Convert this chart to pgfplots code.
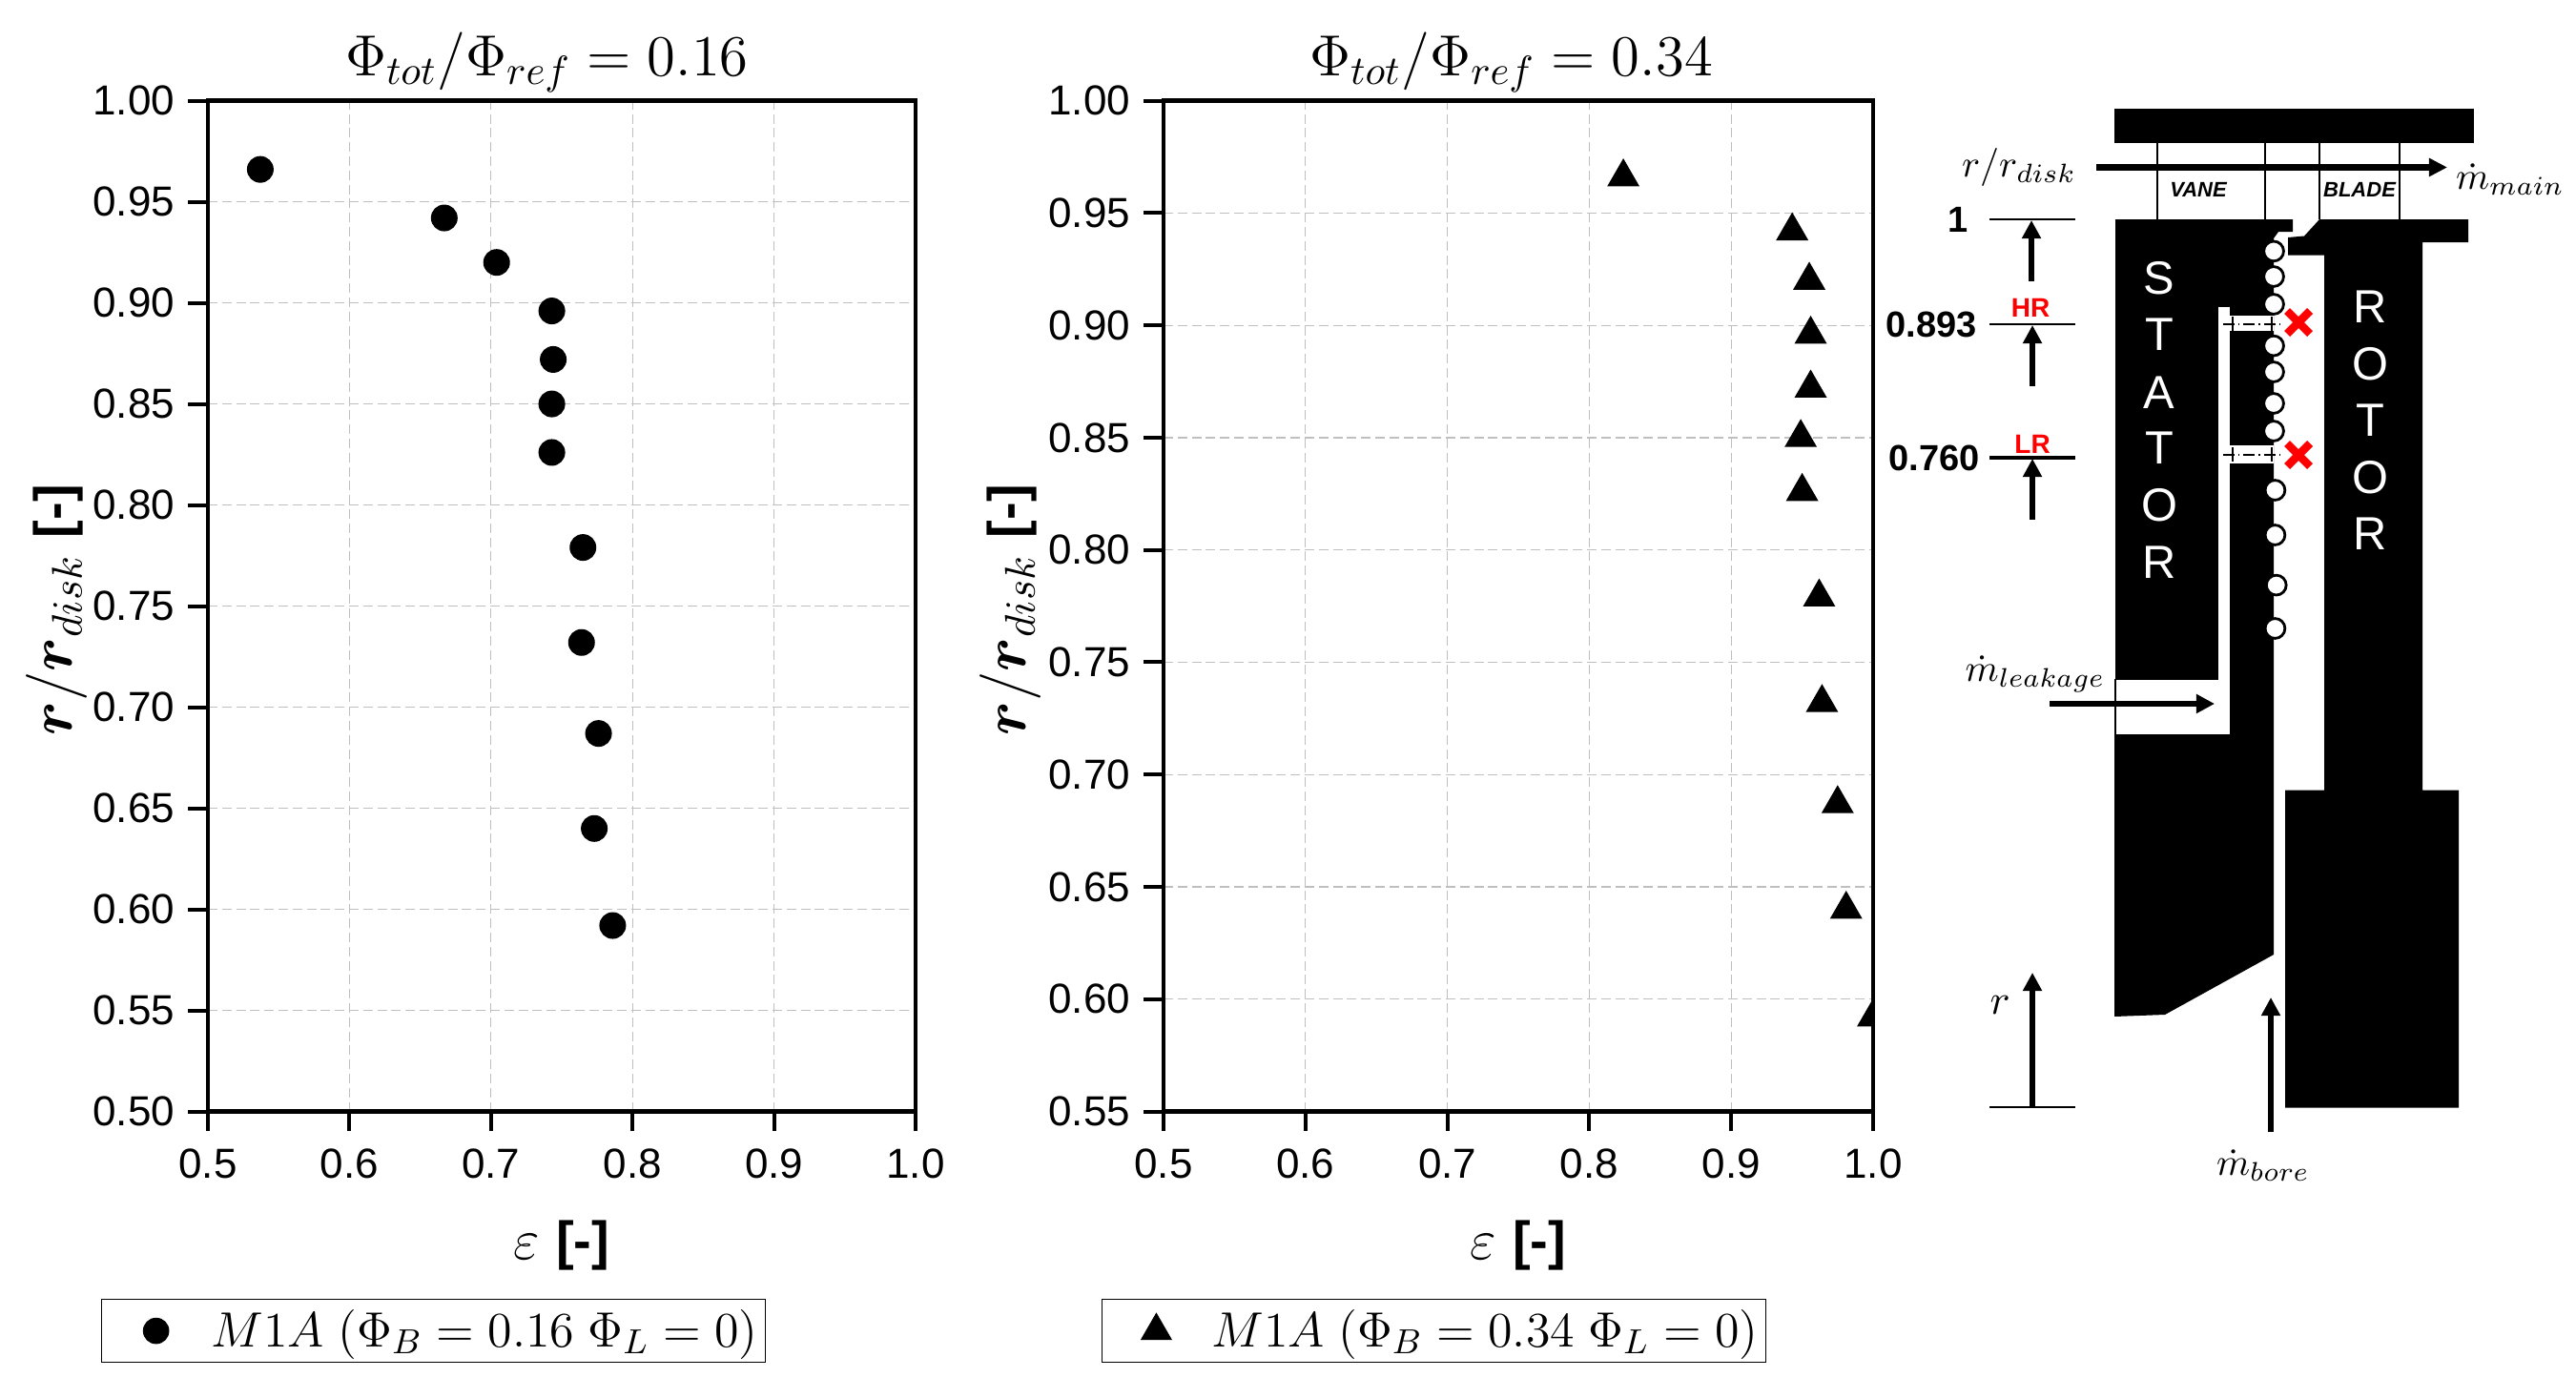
\RequirePackage{fix-cm}
\documentclass[border=0pt]{standalone}
\usepackage[no-math]{fontspec}
\setmainfont{Liberation Sans}
\usepackage{pgfplots}
\pgfplotsset{compat=1.18}
\usetikzlibrary{arrows.meta}

\pgfplotsset{
  every axis title shift=0pt,
  effplot/.style={
    scale only axis,
    height=265pt,
    axis line style={line width=1.05pt},
    tick style={black,line width=1pt},
    tick align=outside,
    major tick length=5.2pt,
    xtick pos=bottom, ytick pos=left,
    xmin=0.5, xmax=1,
    xtick={0.5,0.6,...,1.0},
    grid=major,
    grid style={dash pattern=on 2.5pt off 1.2pt,line width=0.3pt,black!25},
    clip mode=global, clip marker paths=true,
    every tick label/.append style={font=\fontsize{11}{13}\selectfont},
    /pgf/number format/assume math mode=true,
    xticklabel style={yshift=-1pt,/pgf/number format/.cd,fixed,fixed zerofill,precision=1},
    yticklabel style={/pgf/number format/.cd,fixed,fixed zerofill,precision=2},
    xlabel={\fontsize{15}{17}\selectfont$\varepsilon$ \fontsize{14}{16}\selectfont\textbf{[-]}},
    xlabel style={at={(axis description cs:0.5,-0.1325)},anchor=center},
    ylabel={\fontsize{16}{18}\selectfont{\boldmath$r$}$/${\boldmath$r$}$_{disk}$ \fontsize{14}{16}\selectfont\textbf{[-]}},
    every axis title/.append style={font=\fontsize{15.2}{18}\selectfont},
    legend cell align=left,
    legend image code/.code={\path[draw=none] (-0.5cm,0) rectangle (0.44cm,0); \draw[##1] plot coordinates {(0,0)};},
  },
  boxleg/.style={at={(axis description cs:#1,-0.217)},anchor=center,draw=black,line width=0.3pt,
    font=\fontsize{13}{15}\selectfont,inner xsep=0pt,inner ysep=0.6pt},
  block/.style={fill=black,draw=none,forget plot},
  gap/.style={fill=white,draw=none,forget plot},
  thinln/.style={black,line width=0.35pt,forget plot},
  lvl/.style={black,line width=0.5pt,forget plot},
  arr/.style={black,line width=1.4pt,-{Triangle[length=4.8pt,width=4.8pt]},forget plot},
  redx/.style={red,line width=2.1pt,forget plot},
}

\pgfplotstableread{
eps r
0.537 0.966
0.667 0.942
0.704 0.920
0.743 0.896
0.744 0.872
0.743 0.850
0.743 0.826
0.765 0.779
0.764 0.732
0.776 0.687
0.773 0.640
0.786 0.592
}\lowflow
\pgfplotstableread{
eps r
0.824 0.966
0.943 0.942
0.955 0.920
0.956 0.896
0.956 0.872
0.949 0.850
0.950 0.826
0.962 0.779
0.964 0.732
0.975 0.687
0.981 0.640
1.000 0.592
}\highflow

\begin{document}
\begin{tikzpicture}[x=1pt,y=1pt]
\useasboundingbox (0,0) rectangle (675.25,366.5);

% left panel
\begin{axis}[effplot, at={(54.5pt,75.1pt)}, anchor=south west, width=185.5pt,
  ymin=0.5, ymax=1, ytick={0.5,0.55,...,1.0},
  title={$\Phi_{tot}/\Phi_{ref}=0.16$},
  title style={at={(axis description cs:0.479,1.038)},anchor=center},
  ylabel style={at={(axis description cs:-0.213,0.496)},anchor=center},
  legend style={boxleg=0.319},
]
\addplot[only marks,mark=*,mark size=3.3pt,black] table[x=eps,y=r] {\lowflow};
\addlegendentry{$M1A\;\big(\Phi_B=0.16\;\Phi_L=0\big)$}
\end{axis}

% right panel
\begin{axis}[effplot, at={(305pt,75.1pt)}, anchor=south west, width=186pt,
  ymin=0.55, ymax=1, ytick={0.55,0.6,...,1.0},
  title={$\Phi_{tot}/\Phi_{ref}=0.34$},
  title style={at={(axis description cs:0.490,1.038)},anchor=center},
  ylabel style={at={(axis description cs:-0.216,0.496)},anchor=center},
  legend style={boxleg=0.381},
]
\addplot[only marks,mark=triangle*,mark size=4.5pt,black] table[x=eps,y=r] {\highflow};
\addlegendentry{$M1A\;\big(\Phi_B=0.34\;\Phi_L=0\big)$}
\end{axis}

% schematic, in reference pixel coordinates
\begin{axis}[at={(0pt,0pt)},anchor=south west,scale only axis,width=675.25pt,height=366.5pt,
  xmin=0,xmax=2701,ymin=0,ymax=1466,y dir=reverse,hide axis,clip=false]
% casing and annulus lines
\addplot[block] coordinates {(2217,114)(2594,114)(2594,150)(2217,150)};
\addplot[black,line width=0.55pt,forget plot] coordinates {(2262,150)(2262,230)};
\addplot[black,line width=0.55pt,forget plot] coordinates {(2375,150)(2375,230)};
\addplot[black,line width=0.55pt,forget plot] coordinates {(2432,150)(2432,230)};
\addplot[black,line width=0.55pt,forget plot] coordinates {(2516,150)(2516,230)};
\addplot[black,line width=1.6pt,-{Triangle[length=4.8pt,width=4.6pt]},forget plot] coordinates {(2198,175.5)(2566,175.5)};
% stator
\addplot[block] coordinates {(2218,230)(2404,230)(2404,243)(2389,243)(2384,250)(2384,1001)(2270,1064)(2217,1066)(2217,770)(2218,712)};
\addplot[gap] coordinates {(2219,712.5)(2338,712.5)(2338,770)(2219,770)};
\addplot[gap] coordinates {(2326,322)(2338,322)(2338,713)(2326,713)};
\addplot[gap] coordinates {(2338,330.5)(2384,330.5)(2384,347)(2338,347)};
\addplot[gap] coordinates {(2338,467)(2384,467)(2384,486)(2338,486)};
\addplot[thinln] coordinates {(2218,712)(2218,770)};
% rotor
\addplot[block] coordinates {(2432,230)(2588,230)(2588,254)(2540,254)(2540,828.5)(2578,828.5)(2578,1161.5)(2396,1161.5)(2396,828.5)(2437,828.5)(2437,267.5)(2399,267.5)(2399,249)(2416,247.5)};
% measurement lines through the slots
\addplot[thinln,densely dashdotted] coordinates {(2331,340)(2391,340)};
\addplot[thinln] coordinates {(2341,332)(2341,347)};
\addplot[thinln] coordinates {(2382,332)(2382,347)};
\addplot[thinln,densely dashdotted] coordinates {(2331,477)(2390,477)};
\addplot[thinln] coordinates {(2341,469)(2341,484)};
\addplot[thinln] coordinates {(2382,469)(2382,484)};
% measurement points
\addplot[only marks,mark=*,mark size=2.6pt,mark options={fill=white,draw=black,line width=0.7pt},forget plot] coordinates {
  (2384,263.4)(2384,290)(2384,319)(2384,362.6)(2384,390)(2384,423)(2384,452)
  (2385.4,514)(2385.4,561)(2386.7,613.6)(2385.4,659)};
\addplot[redx] coordinates {(2398,326)(2422,350)};
\addplot[redx] coordinates {(2398,350)(2422,326)};
\addplot[redx] coordinates {(2398,465)(2422,489)};
\addplot[redx] coordinates {(2398,489)(2422,465)};
% radius levels
\addplot[lvl] coordinates {(2086,230)(2176,230)};
\addplot[lvl] coordinates {(2086,340)(2176,340)};
\addplot[lvl,line width=0.8pt] coordinates {(2086,480)(2176,480)};
\addplot[lvl] coordinates {(2086,1161)(2176,1161)};
\addplot[arr] coordinates {(2130,295)(2130,231)};
\addplot[arr] coordinates {(2131,405)(2131,341)};
\addplot[arr] coordinates {(2131,545)(2131,481)};
\addplot[arr] coordinates {(2131,1161)(2131,1020)};
\addplot[arr] coordinates {(2381,1187)(2381,1046)};
\addplot[arr] coordinates {(2149,738)(2322,738)};
% labels
\node[font=\fontsize{10}{12}\selectfont] at (axis cs:2117,175) {$r/r_{disk}$};
\node[font=\fontsize{10}{12}\selectfont] at (axis cs:2632,188) {$\dot m_{main}$};
\node[font=\fontsize{10}{12}\selectfont] at (axis cs:2134,707) {$\dot m_{leakage}$};
\node[font=\fontsize{10}{12}\selectfont] at (axis cs:2373,1222) {$\dot m_{bore}$};
\node[font=\fontsize{11}{13}\selectfont] at (axis cs:2097,1054) {$r$};
\node[font=\fontsize{5.5}{6}\bfseries\itshape\selectfont] at (axis cs:2305,199) {VANE};
\node[font=\fontsize{5.5}{6}\bfseries\itshape\selectfont] at (axis cs:2474,199) {BLADE};
\node[font=\fontsize{9.5}{11}\bfseries\selectfont] at (axis cs:2053,230) {1};
\node[font=\fontsize{9.5}{11}\bfseries\selectfont] at (axis cs:2025,340) {0.893};
\node[font=\fontsize{9.5}{11}\bfseries\selectfont] at (axis cs:2028,480) {0.760};
\node[red,font=\fontsize{7}{8}\bfseries\selectfont] at (axis cs:2129,323) {HR};
\node[red,font=\fontsize{7}{8}\bfseries\selectfont] at (axis cs:2131,466) {LR};
\foreach \c/\y in {S/292,T/351,A/411.6,T/469.7,O/530,R/590}{
  \edef\tmp{\noexpand\node[white,font=\noexpand\fontsize{12.2}{14}\noexpand\selectfont] at (axis cs:2264,\y) {\c};}\tmp
}
\foreach \c/\y in {R/322,O/381.7,T/440.6,O/500.8,R/560}{
  \edef\tmp{\noexpand\node[white,font=\noexpand\fontsize{12.2}{14}\noexpand\selectfont] at (axis cs:2485,\y) {\c};}\tmp
}
\end{axis}
\end{tikzpicture}
\end{document}
